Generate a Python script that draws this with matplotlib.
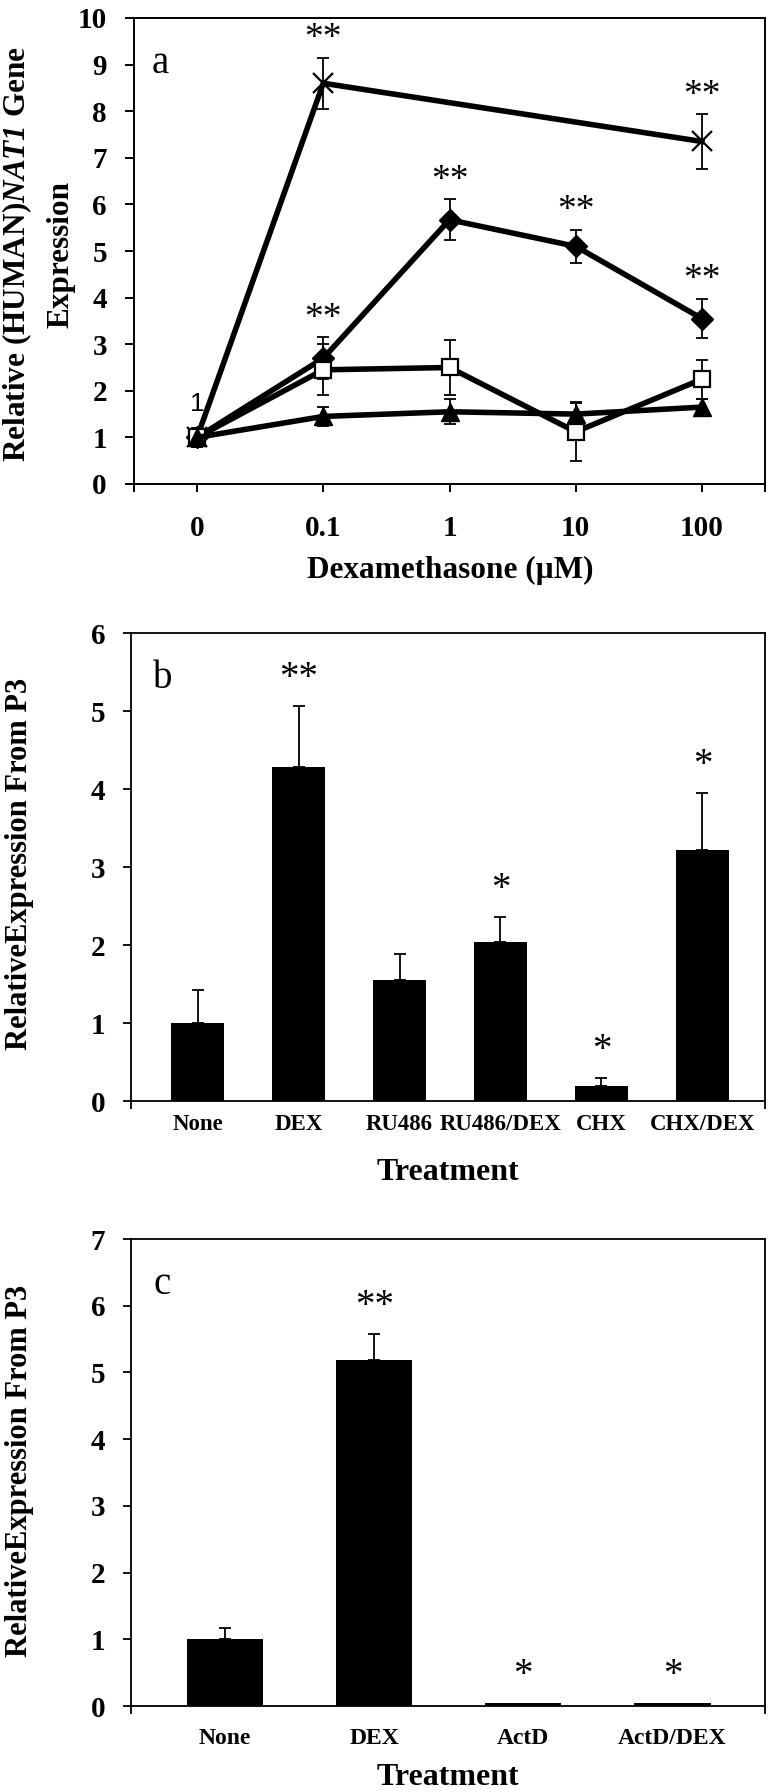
import numpy as np
import matplotlib.pyplot as plt

plt.rcParams['font.family'] = ['Liberation Serif', 'DejaVu Serif']
plt.rcParams['mathtext.fontset'] = 'custom'
plt.rcParams['mathtext.rm'] = 'Liberation Serif:bold'
plt.rcParams['mathtext.bf'] = 'Liberation Serif:bold'
plt.rcParams['mathtext.bfit'] = 'Liberation Serif:italic:bold'

# --- panel a: dose response ---
dex_labels = ['0', '0.1', '1', '10', '100']
cross_pos = [0, 1, 4]
cross_y = [1.0, 8.6, 7.35]
cross_err = [0.2, 0.55, 0.58]
diamond_y = [1.0, 2.7, 5.67, 5.1, 3.55]
diamond_err = [0.2, 0.45, 0.44, 0.36, 0.42]
square_y = [1.0, 2.45, 2.5, 1.12, 2.25]
square_err = [0.2, 0.55, 0.58, 0.63, 0.42]
triangle_y = [1.0, 1.45, 1.55, 1.5, 1.65]
triangle_err = [0.2, 0.2, 0.27, 0.24, 0.17]
diamond_stars = ['', '**', '**', '**', '**']
cross_stars = ['', '**', '**']

# --- panel b ---
treat_b = ['None', 'DEX', 'RU486', 'RU486/DEX', 'CHX', 'CHX/DEX']
vals_b = [1.0, 4.28, 1.55, 2.04, 0.19, 3.22]
err_b = [0.42, 0.78, 0.33, 0.32, 0.11, 0.73]
stars_b = ['', '**', '', '*', '*', '*']

# --- panel c ---
treat_c = ['None', 'DEX', 'ActD', 'ActD/DEX']
vals_c = [1.0, 5.18, 0.04, 0.04]
err_c = [0.17, 0.4, 0.0, 0.0]
stars_c = ['', '**', '*', '*']

W, H = 776, 1792
fig = plt.figure(figsize=(W / 100, H / 100), dpi=100)


def box(l, t, r, b):
    return [l / W, 1 - b / H, (r - l) / W, (b - t) / H]


# ---------------- panel a ----------------
ax = fig.add_axes(box(134, 18, 765, 484))
x = np.arange(len(dex_labels))
series = [
    (cross_pos, cross_y, cross_err, dict(marker='x', ms=15, mew=1.6, mfc='k')),
    (x, diamond_y, diamond_err, dict(marker='D', ms=11.5, mfc='k')),
    (x, square_y, square_err, dict(marker='s', ms=11, mfc='white', mew=1.6)),
    (x, triangle_y, triangle_err, dict(marker='^', ms=13, mfc='k')),
]
for xs, ys, es, style in series:
    ax.errorbar(xs, ys, yerr=es, fmt='none', ecolor='k', elinewidth=1.3,
                capsize=4.5, capthick=1.3, zorder=2)
    ax.plot(xs, ys, color='k', lw=4, mec='k', zorder=3, **style)

for xs, ys, es, ss in [(x, diamond_y, diamond_err, diamond_stars),
                       (cross_pos, cross_y, cross_err, cross_stars)]:
    for xi, yi, ei, s in zip(xs, ys, es, ss):
        if s:
            ax.annotate(s, (xi, yi + ei), xytext=(0, 26),
                        textcoords='offset points', ha='center', va='top',
                        fontsize=27)
ax.text(0, 1.72, '1', ha='center', va='center', fontsize=19,
        family=['Liberation Sans', 'DejaVu Sans'])
ax.text(0.028, 0.882, 'a', transform=ax.transAxes, fontsize=28, va='baseline')

ax.set_xlim(-0.5, len(dex_labels) - 0.5)
ax.set_ylim(0, 10)
ax.set_yticks(range(0, 11))
ax.set_xticks(x)
ax.set_xticklabels(dex_labels)
ax.set_xticks([-0.5, len(dex_labels) - 0.5], minor=True)
ax.tick_params(axis='y', length=6.5, width=1.4, pad=13, labelsize=21)
ax.tick_params(axis='x', which='both', length=6, width=1.4, pad=16, labelsize=21)
for lab in ax.get_xticklabels() + ax.get_yticklabels():
    lab.set_fontweight('bold')
for sp in ax.spines.values():
    sp.set_linewidth(1.4)

fig.text(450 / W, 1 - 578 / H, 'Dexamethasone (µM)', ha='center',
         va='baseline', fontsize=22.5, fontweight='bold')
fig.text(38 / W, 1 - 254 / H,
         'Relative (HUMAN)$\\mathbfit{NAT1}$ Gene\nExpression',
         rotation=90, ha='center', va='center', fontsize=22.5,
         fontweight='bold', linespacing=1.6, multialignment='center')


# ---------------- panels b and c ----------------
def bar_panel(rect, labels, vals, errs, stars, ymax, letter, xlim, width,
              lab_pad, lab_size, star_off, ylab_y, xlab_y):
    ax = fig.add_axes(box(*rect))
    pos = np.arange(len(labels))
    ax.bar(pos, vals, width=width, color='k', zorder=2)
    has = [e > 0 for e in errs]
    ax.errorbar(pos[has], np.array(vals)[has],
                yerr=[np.zeros(sum(has)), np.array(errs)[has]],
                fmt='none', ecolor='k', elinewidth=1.3, capsize=4,
                capthick=1.3, zorder=3)
    for p, v, e, s in zip(pos, vals, errs, stars):
        if s:
            ax.annotate(s, (p, v + e), xytext=(0, star_off),
                        textcoords='offset points', ha='center', va='top',
                        fontsize=28)
    ax.text(0.035, 0.883, letter, transform=ax.transAxes, fontsize=28,
            va='baseline')
    ax.set_xlim(*xlim)
    ax.set_ylim(0, ymax)
    ax.set_yticks(range(0, ymax + 1))
    ax.set_xticks(pos)
    ax.set_xticklabels(labels)
    ax.set_xticks(list(xlim), minor=True)
    ax.tick_params(axis='x', which='major', length=0, pad=lab_pad,
                   labelsize=lab_size)
    ax.tick_params(axis='x', which='minor', length=6, width=1.3)
    ax.tick_params(axis='y', length=5.5, width=1.3, pad=13, labelsize=21)
    for lab in ax.get_xticklabels() + ax.get_yticklabels():
        lab.set_fontweight('bold')
    for sp in ax.spines.values():
        sp.set_linewidth(1.3)
    fig.text(20 / W, 1 - ylab_y / H, 'RelativeExpression From P3',
             rotation=90, ha='center', va='center', fontsize=22,
             fontweight='bold')
    fig.text((rect[0] + rect[2]) / 2 / W, 1 - xlab_y / H, 'Treatment',
             ha='center', va='baseline', fontsize=23, fontweight='bold')
    return ax


bar_panel((131, 633, 765, 1101), treat_b, vals_b, errs=err_b, stars=stars_b,
          ymax=6, letter='b', xlim=(-0.66, 5.62), width=0.52, lab_pad=9,
          lab_size=16.5, star_off=33, ylab_y=864, xlab_y=1180)
bar_panel((131, 1239, 765, 1706), treat_c, vals_c, errs=err_c, stars=stars_c,
          ymax=7, letter='c', xlim=(-0.63, 3.62), width=0.51, lab_pad=16,
          lab_size=17, star_off=33, ylab_y=1471, xlab_y=1785)

fig.savefig('out.png', dpi=100)
